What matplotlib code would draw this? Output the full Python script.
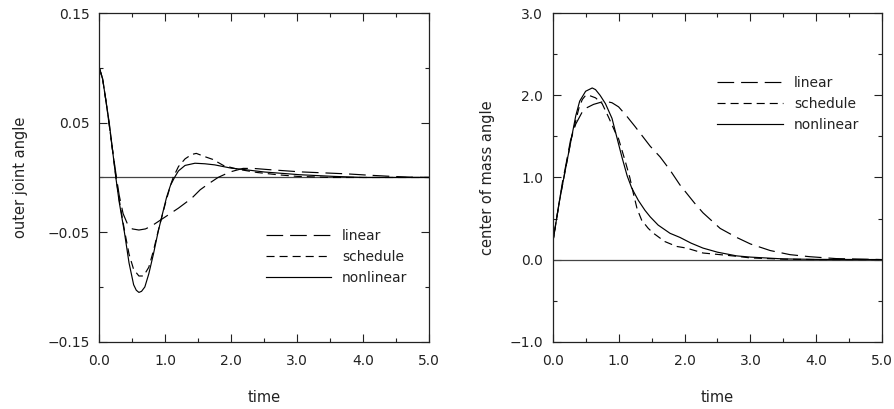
import matplotlib
matplotlib.use('Agg')
import matplotlib.pyplot as plt
from matplotlib.ticker import FixedLocator, FuncFormatter, MultipleLocator

# ---- left panel: outer joint angle ----
t_lin_l = [0, 0.05, 0.1, 0.15, 0.2, 0.25, 0.3, 0.36, 0.43, 0.5, 0.6, 0.7, 0.8, 0.9, 1.0,
           1.2, 1.4, 1.53, 1.65, 1.8, 1.98, 2.18, 2.35, 2.54, 3.05, 3.4, 3.75, 4.05, 4.36, 4.7, 5.0]
linear_l = [0.1, 0.09, 0.07, 0.048, 0.025, 0.004, -0.016, -0.033, -0.043, -0.047, -0.048, -0.047,
            -0.044, -0.040, -0.036, -0.028, -0.019, -0.0112, -0.006, 0.0, 0.005, 0.0083, 0.0082,
            0.0073, 0.0051, 0.0042, 0.0033, 0.0022, 0.0012, 0.0003, 0.0]
t_sch_l = [0, 0.05, 0.1, 0.15, 0.2, 0.25, 0.3, 0.38, 0.45, 0.52, 0.6, 0.67, 0.75, 0.82, 0.9, 1.0,
           1.08, 1.12, 1.2, 1.3, 1.4, 1.47, 1.6, 1.72, 1.88, 2.1, 2.4, 2.7, 3.0, 3.5, 4.0, 5.0]
sched_l = [0.1, 0.09, 0.07, 0.048, 0.025, 0.001, -0.02, -0.048, -0.07, -0.084, -0.09, -0.09,
           -0.082, -0.067, -0.047, -0.024, -0.007, 0.0, 0.01, 0.017, 0.021, 0.022, 0.019, 0.0165,
           0.011, 0.0075, 0.0045, 0.0025, 0.001, 0.0, 0.0, 0.0]
t_non_l = [0, 0.05, 0.1, 0.15, 0.2, 0.25, 0.3, 0.38, 0.45, 0.52, 0.56, 0.6, 0.64, 0.69, 0.75, 0.82,
           0.89, 0.95, 1.02, 1.08, 1.14, 1.2, 1.3, 1.45, 1.6, 1.75, 2.0, 2.13, 2.5, 3.04, 3.55, 4.0, 5.0]
nonlin_l = [0.1, 0.09, 0.07, 0.05, 0.025, 0.0, -0.022, -0.05, -0.078, -0.098, -0.103, -0.105,
            -0.104, -0.1, -0.088, -0.07, -0.05, -0.035, -0.018, -0.007, 0.0, 0.006, 0.011, 0.013,
            0.0125, 0.0115, 0.0085, 0.0077, 0.005, 0.0025, 0.001, 0.0, 0.0]

# ---- right panel: center of mass angle ----
t_lin_r = [0, 0.05, 0.1, 0.15, 0.2, 0.27, 0.35, 0.47, 0.62, 0.79, 0.9, 1.0, 1.12, 1.25, 1.48, 1.63,
           1.78, 1.93, 2.03, 2.15, 2.28, 2.54, 2.79, 3.0, 3.3, 3.6, 3.9, 4.3, 5.0]
linear_r = [0.2, 0.45, 0.7, 0.95, 1.15, 1.45, 1.65, 1.83, 1.89, 1.93, 1.91, 1.86, 1.75, 1.62, 1.38,
            1.25, 1.09, 0.91, 0.81, 0.69, 0.57, 0.38, 0.27, 0.19, 0.11, 0.06, 0.035, 0.012, 0.0]
t_sch_r = [0, 0.05, 0.1, 0.17, 0.29, 0.4, 0.45, 0.5, 0.55, 0.65, 0.75, 0.85, 0.95, 1.0, 1.1, 1.17,
           1.22, 1.28, 1.35, 1.45, 1.53, 1.7, 1.88, 2.03, 2.28, 2.54, 2.79, 3.0, 3.5, 4.0, 5.0]
sched_r = [0.2, 0.45, 0.7, 1.0, 1.5, 1.85, 1.95, 2.0, 2.0, 1.97, 1.9, 1.73, 1.55, 1.47, 1.2, 1.0,
           0.82, 0.62, 0.48, 0.38, 0.32, 0.22, 0.16, 0.14, 0.08, 0.06, 0.04, 0.02, 0.005, 0.0, 0.0]
t_non_r = [0, 0.05, 0.1, 0.17, 0.23, 0.29, 0.35, 0.41, 0.5, 0.6, 0.65, 0.72, 0.8, 0.9, 0.97, 1.05,
           1.13, 1.2, 1.3, 1.4, 1.48, 1.6, 1.78, 1.93, 2.1, 2.28, 2.5, 2.79, 3.0, 3.5, 4.0, 5.0]
nonlin_r = [0.2, 0.45, 0.7, 1.0, 1.25, 1.5, 1.75, 1.93, 2.05, 2.09, 2.07, 2.0, 1.9, 1.72, 1.5, 1.25,
            1.02, 0.87, 0.72, 0.6, 0.52, 0.42, 0.32, 0.27, 0.2, 0.14, 0.09, 0.045, 0.03, 0.008, 0.002, 0.0]

labels = ['linear', 'schedule', 'nonlinear']
yticks_l = [-0.15, -0.05, 0.05, 0.15]
yminor_l = [-0.10, 0.0, 0.10]

plt.rcParams['font.family'] = 'DejaVu Sans'
plt.rcParams['lines.scale_dashes'] = False
INK = '#222222'
DASH_LONG = (0, (12.0, 5.0))
DASH_SHORT = (0, (5.8, 3.6))

fig = plt.figure(figsize=(8.95, 4.09), dpi=100)
axL = fig.add_axes([0.111, 0.1646, 0.3684, 0.803])
axR = fig.add_axes([0.6175, 0.1646, 0.3683, 0.803])

def minus(fmt):
    return FuncFormatter(lambda v, p: (fmt % v).replace('-', '\u2212'))

def style(ax):
    for sp in ax.spines.values():
        sp.set_linewidth(0.9)
        sp.set_color(INK)
    ax.tick_params(which='both', direction='in', top=True, right=True, width=0.8, colors=INK,
                   labelsize=10)
    ax.tick_params(which='major', length=5.5)
    ax.tick_params(which='minor', length=3)
    ax.tick_params(axis='x', pad=9)
    ax.tick_params(axis='y', pad=7)
    ax.set_xlim(0, 5)
    ax.xaxis.set_major_locator(MultipleLocator(1.0))
    ax.xaxis.set_minor_locator(MultipleLocator(0.5))
    ax.xaxis.set_major_formatter(minus('%.1f'))
    ax.axhline(0, color='#444444', lw=0.9)
    ax.set_xlabel('time', fontsize=10.5, color=INK, labelpad=16)

for ax, data in [(axL, [(t_lin_l, linear_l), (t_sch_l, sched_l), (t_non_l, nonlin_l)]),
                 (axR, [(t_lin_r, linear_r), (t_sch_r, sched_r), (t_non_r, nonlin_r)])]:
    style(ax)
    for (t, v), ls, lab in zip(data, [DASH_LONG, DASH_SHORT, '-'], labels):
        ax.plot(t, v, color='black', lw=0.85, linestyle=ls, label=lab)

axL.set_ylim(-0.15, 0.15)
axL.yaxis.set_major_locator(FixedLocator(yticks_l))
axL.yaxis.set_minor_locator(FixedLocator(yminor_l))
axL.yaxis.set_major_formatter(minus('%.2f'))
axL.set_ylabel('outer joint angle', fontsize=10.5, color=INK, labelpad=14)

axR.set_ylim(-1.0, 3.0)
axR.yaxis.set_major_locator(MultipleLocator(1.0))
axR.yaxis.set_minor_locator(MultipleLocator(0.5))
axR.yaxis.set_major_formatter(minus('%.1f'))
axR.set_ylabel('center of mass angle', fontsize=10.5, color=INK, labelpad=10)

for ax, anchor in [(axL, (0.505, 0.343)), (axR, (0.50, 0.81))]:
    leg = ax.legend(loc='upper left', bbox_to_anchor=anchor, frameon=False, fontsize=10,
                    handlelength=4.7, handletextpad=0.8, labelspacing=0.5, borderpad=0,
                    borderaxespad=0)
    for txt in leg.get_texts():
        txt.set_color(INK)

fig.savefig('out.png', dpi=100)
